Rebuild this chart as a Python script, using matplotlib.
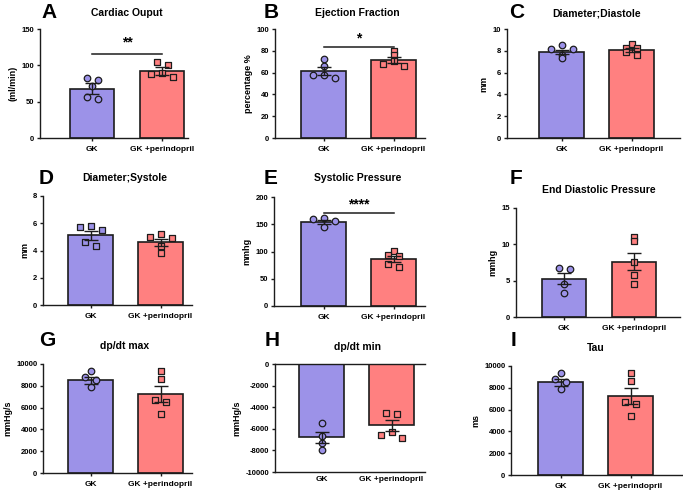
#!/usr/bin/env python
import numpy as np
import matplotlib
matplotlib.use('Agg')
import matplotlib.pyplot as plt

plt.rcParams['font.family'] = ['Liberation Sans', 'DejaVu Sans']
plt.rcParams['font.weight'] = 'bold'
plt.rcParams['axes.unicode_minus'] = False

groups = ['GK', 'GK +perindopril']

# ---- data ----
co_gk = [83, 80, 72, 57, 54]
co_pe = [104, 101, 90, 88.5, 84]
co_mean = [67.9, 92.7]
co_sem = [7.3, 5.5]

ef_gk = [72.8, 65.7, 58.1, 57.8, 54.7]
ef_pe = [80.1, 75.8, 70.9, 68.2, 65.7]
ef_mean = [61.5, 71.6]
ef_sem = [3.5, 2.7]

dd_gk = [8.5, 8.2, 8.17, 7.65, 7.3]
dd_pe = [8.65, 8.3, 8.26, 7.9, 7.6]
dd_mean = [7.9, 8.07]
dd_sem = [0.2, 0.2]

ds_gk = [5.78, 5.73, 5.5, 4.59, 4.34]
ds_pe = [5.2, 5.0, 4.95, 4.32, 3.78]
ds_mean = [5.12, 4.6]
ds_sem = [0.33, 0.27]

sp_gk = [162, 160, 155.4, 145]
sp_pe = [100.6, 93, 92.4, 77.7, 71.6]
sp_mean = [154, 86]
sp_sem = [3.5, 5]

edp_gk = [6.7, 6.55, 4.6, 3.3]
edp_pe = [11, 10.4, 7.6, 5.77, 4.48]
edp_mean = [5.26, 7.6]
edp_sem = [0.78, 1.2]

dmax_gk = [9323, 8770, 8492, 7846]
dmax_pe = [9323, 8646, 6708, 6492, 5385]
dmax_mean = [8492, 7231]
dmax_sem = [310, 740]

dmin_gk = [-5477, -6708, -7354, -7938]
dmin_pe = [-4492, -4585, -6308, -6615, -6862]
dmin_mean = [-6800, -5692]
dmin_sem = [500, 490]

tau_gk = [9327, 8807, 8502, 7890]
tau_pe = [9323, 8646, 6708, 6492, 5385]
tau_mean = [8492, 7231]
tau_sem = [310, 740]

COL = ['#9C92E8', '#FF8080']
INK = '#1c1c1c'
W, H = 683, 494
UNIT = 70.0  # px between the two bars

# layout: letter, title, ylabel, data, ylim, yticks, box(px: x0, x1, ytop, ybot, gk centre), letter xy, title xy
panels = [
    dict(L='A', t='Cardiac Ouput', yl='(ml/min)', d=(co_gk, co_pe, co_mean, co_sem),
         ylim=(0, 150), yt=[0, 50, 100, 150], box=(40, 188, 29, 138, 92),
         lxy=(49, 13), txy=(127, 13), sig=('**', 115.6, 131), gk_m='o'),
    dict(L='B', t='Ejection Fraction', yl='percentage %', d=(ef_gk, ef_pe, ef_mean, ef_sem),
         ylim=(0, 100), yt=[0, 20, 40, 60, 80, 100], box=(275, 425, 29, 138, 323.5),
         lxy=(271, 13), txy=(357, 13), sig=('*', 83.5, 91), gk_m='o'),
    dict(L='C', t='Diameter;Diastole', yl='mm', d=(dd_gk, dd_pe, dd_mean, dd_sem),
         ylim=(0, 10), yt=[0, 2, 4, 6, 8, 10], box=(507, 680, 29, 138, 561.5),
         lxy=(517, 13), txy=(597, 13), sig=None, gk_m='o'),
    dict(L='D', t='Diameter;Systole', yl='mm', d=(ds_gk, ds_pe, ds_mean, ds_sem),
         ylim=(0, 8), yt=[0, 2, 4, 6, 8], box=(43, 192, 196, 305, 90.5),
         lxy=(46, 178), txy=(125, 178), sig=None, gk_m='s'),
    dict(L='E', t='Systolic Pressure', yl='mmhg', d=(sp_gk, sp_pe, sp_mean, sp_sem),
         ylim=(0, 200), yt=[0, 50, 100, 150, 200], box=(274, 425, 197, 306, 323.5),
         lxy=(271, 178), txy=(358, 178), sig=('****', 171, 187), gk_m='o'),
    dict(L='F', t='End Diastolic Pressure', yl='mmhg', d=(edp_gk, edp_pe, edp_mean, edp_sem),
         ylim=(0, 15), yt=[0, 5, 10, 15], box=(516, 680, 208, 317, 564),
         lxy=(516, 178), txy=(599, 190), sig=None, gk_m='o'),
    dict(L='G', t='dp/dt max', yl='mmHg/s', d=(dmax_gk, dmax_pe, dmax_mean, dmax_sem),
         ylim=(0, 10000), yt=list(range(0, 10001, 2000)), box=(43, 192, 364, 473, 90.5),
         lxy=(47, 340), txy=(125, 346), sig=None, gk_m='o'),
    dict(L='H', t='dp/dt min', yl='mmHg/s', d=(dmin_gk, dmin_pe, dmin_mean, dmin_sem),
         ylim=(-10000, 0), yt=list(range(-10000, 1, 2000)), box=(275, 425, 364, 472, 321.5),
         lxy=(272, 340), txy=(357, 347), sig=None, gk_m='o'),
    dict(L='I', t='Tau', yl='ms', d=(tau_gk, tau_pe, tau_mean, tau_sem),
         ylim=(0, 10000), yt=list(range(0, 10001, 2000)), box=(511, 683, 366, 475, 560.5),
         lxy=(514, 340), txy=(596, 348), sig=None, gk_m='o'),
]


def spread(vals, px_per_unit, thresh=3.5, step=11.0):
    # simple column scatter: points close in value go side by side
    order = np.argsort(vals)[::-1]
    offs = np.zeros(len(vals))
    rows, cur = [], [order[0]]
    for a, b in zip(order[:-1], order[1:]):
        if abs(vals[a] - vals[b]) * px_per_unit < thresh:
            cur.append(b)
        else:
            rows.append(cur)
            cur = [b]
    rows.append(cur)
    for r in rows:
        n = len(r)
        if n % 2:
            slots = [0, -1, 1, -2, 2][:n]
        else:
            slots = [-0.5, 0.5, -1.5, 1.5][:n]
        for i, s in zip(r, slots):
            offs[i] = s * step / UNIT
    return offs


fig = plt.figure(figsize=(W / 100, H / 100), dpi=100)

for p in panels:
    x0, x1, ytop, ybot, gk = p['box']
    ax = fig.add_axes([x0 / W, 1 - ybot / H, (x1 - x0) / W, (ybot - ytop) / H])
    gk_v, pe_v, means, sems = p['d']
    ax.set_xlim((x0 - gk) / UNIT, (x1 - gk) / UNIT)
    ax.set_ylim(*p['ylim'])
    ppu = (ybot - ytop) / (p['ylim'][1] - p['ylim'][0])

    ax.bar([0, 1], means, width=0.64, color=COL, edgecolor=INK, linewidth=1.2, zorder=1)
    for i, (vals, mk) in enumerate([(gk_v, p['gk_m']), (pe_v, 's')]):
        vals = np.asarray(vals, float)
        xs = i + spread(vals, ppu)
        ax.scatter(xs, vals, s=22, marker=mk, facecolor=COL[i], edgecolor=INK,
                   linewidths=0.9, zorder=2, clip_on=False)
    ax.errorbar([0, 1], means, yerr=sems, fmt='none', ecolor=INK, elinewidth=1.0,
                capsize=5, capthick=1.0, zorder=3)

    if p['sig']:
        txt, yline, ytxt = p['sig']
        ax.plot([0, 1], [yline, yline], color=INK, lw=1.1, zorder=3, clip_on=False)
        ax.text(0.5, ytxt, txt, ha='center', va='center', fontsize=10, fontweight='bold')

    ax.set_yticks(p['yt'])
    ax.set_xticks([0, 1])
    ax.set_xticklabels(groups, fontsize=6, fontweight='bold')
    ax.tick_params(axis='y', labelsize=5.5, length=2.5, width=1.0, pad=1.5, color=INK)
    ax.tick_params(axis='x', length=2.5, width=1.0, pad=3, color=INK)
    for lab in ax.get_yticklabels():
        lab.set_fontweight('bold')
    ax.set_ylabel(p['yl'], fontsize=6.5, fontweight='bold', labelpad=3)

    for s in ['right', 'top']:
        ax.spines[s].set_visible(False)
    for s in ['left', 'bottom']:
        ax.spines[s].set_linewidth(1.0)
        ax.spines[s].set_color(INK)
    if p['ylim'][1] == 0:
        ax.spines['top'].set_visible(True)
        ax.spines['top'].set_linewidth(1.0)
        ax.spines['top'].set_color(INK)
        ax.tick_params(axis='x', length=0)
    ax.patch.set_alpha(0)

    fig.text(p['lxy'][0] / W, 1 - p['lxy'][1] / H, p['L'], fontsize=15,
             fontweight='bold', ha='center', va='center')
    fig.text(p['txy'][0] / W, 1 - p['txy'][1] / H, p['t'], fontsize=7.5,
             fontweight='bold', ha='center', va='center')

fig.savefig('out.png', dpi=100)
